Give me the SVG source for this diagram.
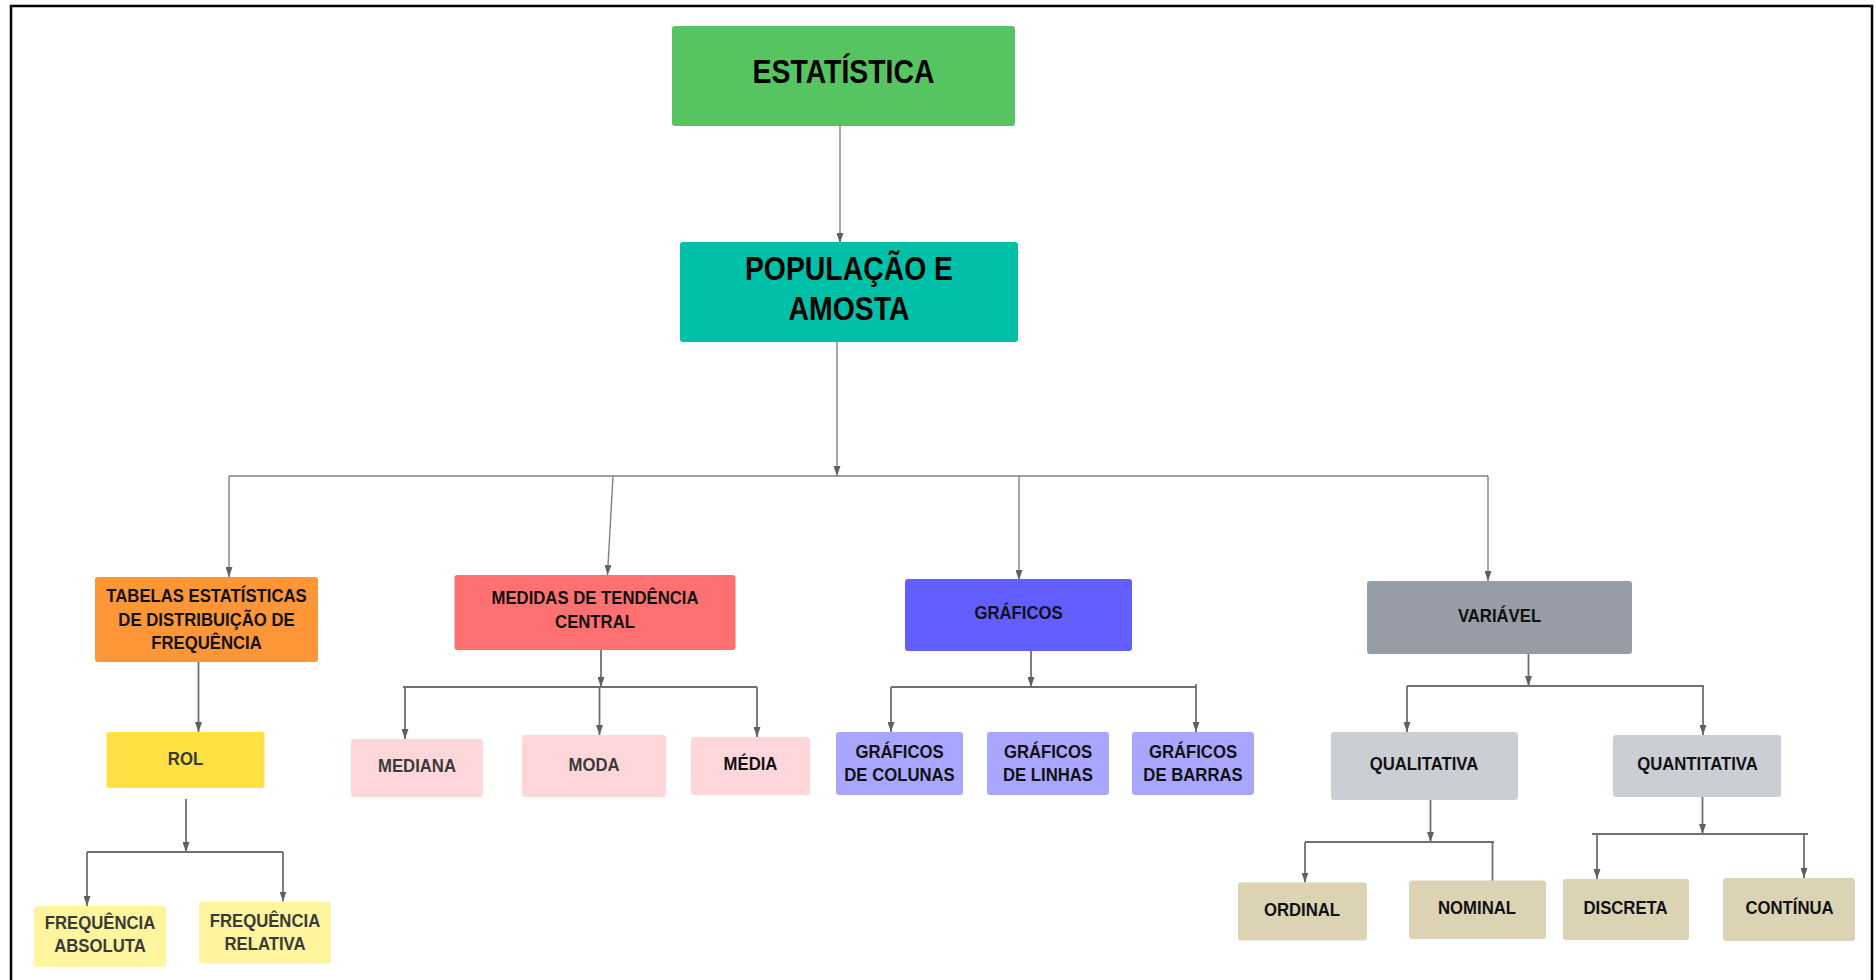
<svg xmlns="http://www.w3.org/2000/svg" width="1876" height="980" viewBox="0 0 1876 980">
<style>
  text { font-family: "Liberation Sans", Arial, sans-serif; font-weight: bold; text-anchor: middle; font-size: 19px; fill: #111; transform: scaleX(0.88); transform-box: fill-box; transform-origin: center; }
  text.big { font-size: 33px; fill: #000; transform: scaleX(0.86); }
  text.dim { fill: #3a3a3a; }
  rect { rx: 3px; ry: 3px; }
  .c path { fill: none; stroke: #707070; stroke-width: 1.8; }
  .c path.top { stroke: #808080; stroke-width: 1.4; }
  .c path.arr { marker-end: url(#ah); }
</style>
<defs>
  <marker id="ah" markerUnits="userSpaceOnUse" markerWidth="10" markerHeight="7" viewBox="0 0 10 7" refX="10" refY="3.5" orient="auto">
    <path d="M0,0 L10,3.5 L0,7 Z" fill="#606060"/>
  </marker>
</defs>
<rect x="0" y="0" width="1876" height="980" fill="#fff" rx="0" ry="0"/>
<path d="M11,990 V6 H1872 V990" fill="none" stroke="#000" stroke-width="2.5"/>

<g class="c" id="connectors">
  <path class="top arr" d="M840,126 V243"/>
  <path class="top arr" d="M837,342 V476"/>
  <path class="top" d="M229,476 H1488"/>
  <path class="top arr" d="M229,476 V577"/>
  <path class="top arr" d="M613,476 L607.5,575"/>
  <path class="top arr" d="M1019,476 V580"/>
  <path class="top arr" d="M1488,476 V581"/>

  <path class="arr" d="M198.5,662 V732"/>
  <path class="arr" d="M186,799 V852"/>
  <path d="M87,852 H283"/>
  <path class="arr" d="M87,852 V906"/>
  <path class="arr" d="M283,852 V901.5"/>

  <path class="arr" d="M601,650 V687"/>
  <path d="M403,687 H757"/>
  <path class="arr" d="M405,687 V739"/>
  <path class="arr" d="M599.5,687 V735"/>
  <path class="arr" d="M757,687 V737"/>

  <path class="arr" d="M1031,651 V687"/>
  <path d="M891,687 H1196"/>
  <path class="arr" d="M891,687 V732"/>
  <path class="arr" d="M1196,684 V732"/>

  <path class="arr" d="M1528.5,654 V686"/>
  <path d="M1407,686 H1704"/>
  <path class="arr" d="M1407,686 V732"/>
  <path class="arr" d="M1703,686 V735"/>

  <path class="arr" d="M1430.5,800 V842"/>
  <path d="M1305,842 H1494"/>
  <path class="arr" d="M1305,842 V882.5"/>
  <path d="M1492.5,842 V881"/>

  <path class="arr" d="M1702.5,797 V834"/>
  <path d="M1592,834 H1808"/>
  <path class="arr" d="M1597,834 V879"/>
  <path class="arr" d="M1804,834 V878"/>
</g>

<g id="estatistica">
  <rect x="672" y="26" width="343" height="100" fill="#55c461"/>
  <text class="big" x="843.5" y="83">ESTATÍSTICA</text>
</g>
<g id="populacao">
  <rect x="680" y="242" width="338" height="100" fill="#00c1a8"/>
  <text class="big" x="849" y="280.5">POPULAÇÃO E<tspan x="849" y="320.5">AMOSTA</tspan></text>
</g>

<g id="tabelas">
  <rect x="95" y="577" width="223" height="85" fill="#fd9636"/>
  <text x="206.5" y="602">TABELAS ESTATÍSTICAS<tspan x="206.5" y="626">DE DISTRIBUIÇÃO DE</tspan><tspan x="206.5" y="649.5">FREQUÊNCIA</tspan></text>
</g>
<g id="rol">
  <rect x="106.5" y="732" width="158" height="56" fill="#ffe143"/>
  <text class="dim" x="185.5" y="765">ROL</text>
</g>
<g id="freq-absoluta">
  <rect x="34" y="906" width="132" height="61" fill="#fff59e"/>
  <text class="dim" x="100" y="929">FREQUÊNCIA<tspan x="100" y="952.5">ABSOLUTA</tspan></text>
</g>
<g id="freq-relativa">
  <rect x="199" y="901.5" width="132" height="62" fill="#fff59e"/>
  <text class="dim" x="265" y="927.5">FREQUÊNCIA<tspan x="265" y="950">RELATIVA</tspan></text>
</g>

<g id="medidas">
  <rect x="454.5" y="575" width="281" height="75" fill="#ff7070"/>
  <text x="595" y="604.5">MEDIDAS DE TENDÊNCIA<tspan x="595" y="628">CENTRAL</tspan></text>
</g>
<g id="mediana">
  <rect x="351" y="739" width="132" height="58" fill="#ffd7da"/>
  <text class="dim" x="417" y="772">MEDIANA</text>
</g>
<g id="moda">
  <rect x="522" y="735" width="144" height="62" fill="#ffd7da"/>
  <text class="dim" x="594" y="771">MODA</text>
</g>
<g id="media">
  <rect x="691" y="737" width="119" height="58" fill="#ffd7da"/>
  <text x="750.5" y="770">MÉDIA</text>
</g>

<g id="graficos">
  <rect x="905" y="579" width="227" height="72" fill="#625eff"/>
  <text x="1018.5" y="619">GRÁFICOS</text>
</g>
<g id="graf-colunas">
  <rect x="836" y="732" width="127" height="63" fill="#a8a6ff"/>
  <text x="899.5" y="757.8">GRÁFICOS<tspan x="899.5" y="781">DE COLUNAS</tspan></text>
</g>
<g id="graf-linhas">
  <rect x="987" y="732" width="122" height="63" fill="#a8a6ff"/>
  <text x="1048" y="757.8">GRÁFICOS<tspan x="1048" y="781">DE LINHAS</tspan></text>
</g>
<g id="graf-barras">
  <rect x="1132" y="732" width="122" height="63" fill="#a8a6ff"/>
  <text x="1193" y="757.8">GRÁFICOS<tspan x="1193" y="781">DE BARRAS</tspan></text>
</g>

<g id="variavel">
  <rect x="1367" y="581" width="265" height="73" fill="#979ca6"/>
  <text x="1499.5" y="622.5">VARIÁVEL</text>
</g>
<g id="qualitativa">
  <rect x="1331" y="732" width="187" height="68" fill="#cbced3"/>
  <text x="1424" y="770.5">QUALITATIVA</text>
</g>
<g id="quantitativa">
  <rect x="1613" y="735" width="168" height="62" fill="#cbced3"/>
  <text x="1697.5" y="770.5">QUANTITATIVA</text>
</g>
<g id="ordinal">
  <rect x="1238" y="882.5" width="129" height="58" fill="#dcd3b5"/>
  <text x="1302" y="916">ORDINAL</text>
</g>
<g id="nominal">
  <rect x="1409" y="880.5" width="137" height="58.5" fill="#dcd3b5"/>
  <text x="1477" y="914">NOMINAL</text>
</g>
<g id="discreta">
  <rect x="1563" y="879" width="126" height="61" fill="#dcd3b5"/>
  <text x="1625.5" y="914.5">DISCRETA</text>
</g>
<g id="continua">
  <rect x="1723" y="878" width="132" height="63" fill="#dcd3b5"/>
  <text x="1789.5" y="914">CONTÍNUA</text>
</g>
</svg>
